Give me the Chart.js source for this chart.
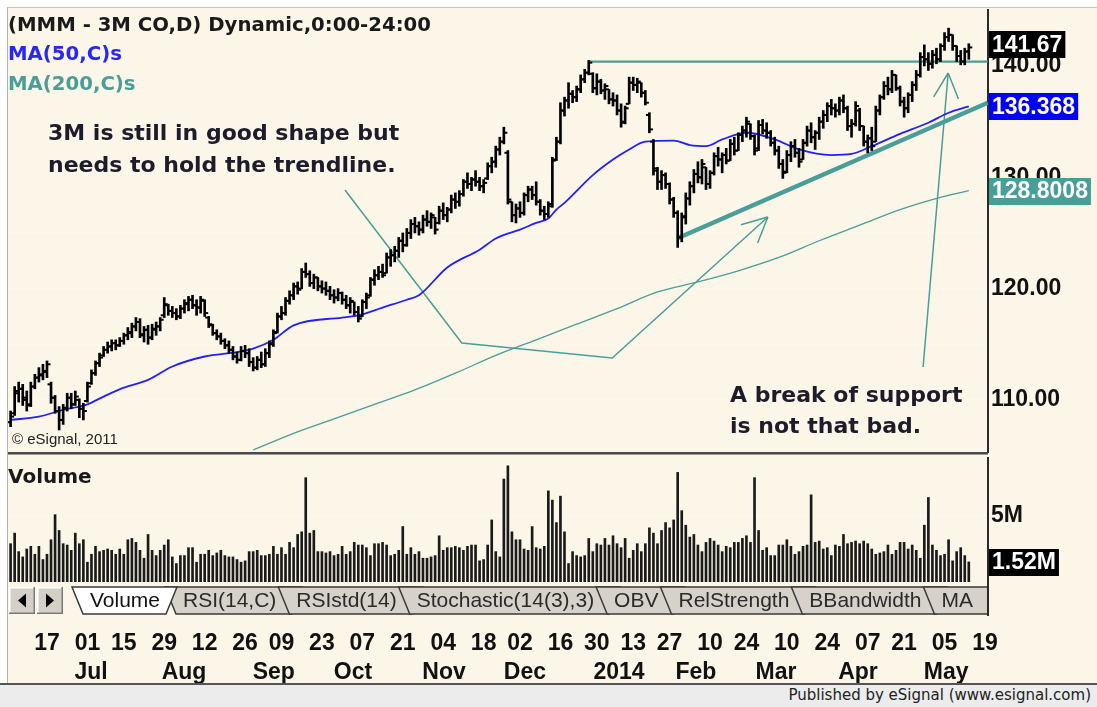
<!DOCTYPE html>
<html>
<head>
<meta charset="utf-8">
<title>MMM - 3M CO, daily</title>
<script src="https://cdn.jsdelivr.net/npm/chart.js@4.4.1/dist/chart.umd.min.js"></script>
<style>
  html, body { margin: 0; padding: 0; }
  body { width: 1097px; height: 707px; position: relative; overflow: hidden; background: #ffffff; }
  #frame { position: absolute; left: 7px; top: 7px; width: 1090px; height: 676px; background: #fcf6e9;
           border-left: 1px solid #b4b4b4; border-top: 1px solid #c4c4c4; box-sizing: border-box; }
  #price { position: absolute; left: 0; top: 0; }
  #vol { position: absolute; left: 0; top: 455px; }
  #footer { position: absolute; left: 0; top: 683px; width: 1097px; height: 24px; background: #ececec;
            border-top: 2px solid #555; box-sizing: border-box; font: 15px "DejaVu Sans", sans-serif;
            color: #222; text-align: right; padding-right: 6px; line-height: 21px; }
</style>
</head>
<body>
<div id="frame"></div>
<canvas id="price" width="1097" height="455"></canvas>
<canvas id="vol" width="1097" height="228"></canvas>
<div id="footer">Published by eSignal (www.esignal.com)</div>
<script>
// daily bars, 4 Jun 2013 .. 13 May 2014 (index = trading day)
var highs = [
  109.0,111.2,111.6,111.4,110.8,111.6,112.3,112.9,113.2,113.5,
  111.6,110.4,109.4,109.6,110.6,110.6,110.8,110.1,109.7,111.6,
  112.7,113.5,114.2,114.8,115.2,115.4,115.4,115.6,116.0,116.5,
  116.9,117.4,117.3,116.6,116.7,116.8,117.0,117.4,119.2,118.6,
  118.4,118.2,118.5,119.0,119.3,119.4,119.0,119.3,119.0,117.5,
  116.8,116.3,116.0,115.5,115.3,114.8,114.3,114.8,114.9,114.6,
  113.8,113.9,114.3,114.6,115.3,116.3,117.8,118.4,119.2,119.8,
  120.5,120.6,121.8,122.3,121.6,121.3,121.0,120.7,120.6,120.2,
  119.9,120.0,119.7,119.4,119.2,118.8,118.4,119.0,119.6,121.0,
  121.7,122.0,122.2,123.2,123.5,123.8,124.6,125.0,125.4,126.2,
  126.4,126.0,126.6,127.0,126.8,126.4,127.4,127.7,127.3,128.4,
  128.6,128.8,129.8,130.4,130.0,130.6,130.0,129.8,131.3,131.8,
  132.8,133.6,134.5,132.4,127.8,127.6,127.8,128.6,129.2,129.2,
  129.6,128.0,127.4,127.8,131.8,133.6,136.7,137.2,138.5,137.8,
  138.2,139.2,139.7,140.5,139.4,139.3,138.8,138.4,137.9,137.6,
  137.4,136.6,136.4,139.0,139.0,138.9,138.5,137.8,135.8,133.4,
  130.9,130.6,130.4,129.5,128.2,127.0,126.8,128.6,129.6,130.7,
  131.4,131.6,130.9,130.6,132.2,132.7,132.2,132.6,133.4,133.6,
  134.0,134.6,135.4,134.8,133.8,135.1,135.2,134.9,134.2,133.6,
  132.8,131.6,132.4,133.2,133.4,132.6,133.4,134.6,134.9,134.2,
  135.4,136.0,136.7,137.0,136.6,137.2,137.4,136.4,135.2,136.8,
  136.2,134.6,133.8,134.5,136.4,137.4,138.6,139.0,139.6,139.2,
  138.2,137.2,137.6,138.6,139.6,141.2,141.9,141.2,141.4,141.6,
  142.0,143.0,143.4,142.8,141.8,141.4,141.6,142.0
];
var lows = [
  107.6,108.6,109.8,109.5,109.0,109.4,111.0,111.6,111.8,112.0,
  109.7,108.8,107.3,107.8,109.0,109.2,109.5,108.4,108.2,109.8,
  111.4,112.2,113.0,113.9,114.2,114.4,114.5,114.8,115.0,115.4,
  115.6,116.2,115.6,115.2,115.0,115.4,115.8,116.2,117.4,117.6,
  117.4,117.2,117.3,117.8,118.0,118.2,117.6,117.8,117.5,116.5,
  115.8,115.4,115.0,114.6,114.2,113.6,113.3,113.5,113.8,113.0,
  112.6,112.7,112.9,113.0,113.8,114.8,116.0,117.2,117.6,118.6,
  119.0,119.5,120.0,121.0,120.2,120.0,119.8,119.6,119.4,119.0,
  118.7,118.9,118.6,118.2,117.8,117.6,117.0,117.5,118.2,119.3,
  120.3,120.8,121.0,121.4,122.0,122.4,122.8,123.3,123.8,124.5,
  125.0,124.8,125.0,125.6,125.4,124.9,125.8,126.2,126.0,126.8,
  127.2,127.4,128.3,129.0,128.8,129.2,128.8,128.6,129.8,130.4,
  130.9,132.0,133.0,127.6,126.0,125.9,126.4,126.6,127.8,128.0,
  127.5,126.6,126.2,126.4,127.3,131.5,133.0,135.5,136.2,136.7,
  136.8,137.6,138.5,139.2,137.6,137.4,137.5,137.0,136.6,136.4,
  135.6,134.5,134.8,136.6,137.8,137.6,137.2,136.5,134.0,130.2,
  128.9,128.9,129.0,127.6,126.4,123.7,124.2,125.8,127.5,128.6,
  129.5,129.4,128.9,129.0,130.2,131.0,130.4,131.2,131.5,132.0,
  132.4,133.2,133.6,133.4,132.0,132.4,133.9,133.5,132.8,132.0,
  130.8,129.9,130.4,131.4,131.8,130.9,131.6,132.8,133.1,132.5,
  133.4,134.4,135.0,135.6,135.4,135.6,135.8,134.2,133.6,134.6,
  134.2,132.8,132.2,132.4,133.2,135.6,137.0,137.4,137.6,137.8,
  136.4,135.4,135.8,136.8,137.8,139.0,140.0,139.6,139.8,140.2,
  140.4,141.4,142.2,141.4,140.4,140.1,140.1,140.6
];
var opens = [
  108.0,108.8,110.6,111.0,110.2,109.6,111.2,112.0,112.2,112.5,
  111.4,110.2,109.0,108.2,109.3,110.2,109.6,110.0,109.2,109.9,
  111.5,112.4,113.3,114.0,114.5,114.8,115.1,114.9,115.3,115.8,
  116.0,116.6,117.0,115.8,116.3,115.6,116.3,116.6,117.6,118.5,
  118.0,117.8,117.5,118.2,118.6,119.0,118.5,118.3,118.9,117.4,
  116.7,116.0,115.7,115.3,114.9,114.5,113.9,113.6,114.4,114.2,
  113.4,112.9,113.6,113.2,114.2,115.1,116.1,117.5,117.8,118.9,
  119.4,120.2,120.0,121.5,121.3,120.5,121.0,120.2,120.0,119.8,
  119.4,119.2,119.6,119.0,118.5,118.8,117.9,117.5,118.8,119.4,
  120.8,121.2,121.5,121.4,122.8,123.0,123.4,124.3,123.9,125.0,
  125.8,125.6,125.3,126.2,126.0,126.4,125.9,127.0,126.6,127.1,
  128.0,127.8,128.5,129.6,129.4,129.8,129.6,129.2,129.9,131.0,
  131.4,132.5,133.2,132.2,127.8,126.6,127.2,126.8,128.4,128.9,
  128.4,127.8,127.0,126.7,127.6,131.6,133.2,136.0,136.9,137.5,
  137.2,137.9,138.8,139.4,139.3,138.0,138.6,137.8,137.9,137.0,
  136.9,136.0,135.0,136.6,138.5,138.3,138.5,137.6,135.6,133.2,
  130.6,129.6,130.2,129.4,128.0,126.8,124.6,126.4,128.1,129.2,
  130.3,130.0,130.9,129.4,130.4,131.9,131.6,132.0,131.5,133.0,
  132.4,133.8,134.2,134.8,133.7,132.6,134.7,134.2,134.0,133.1,
  132.4,131.2,130.5,132.0,132.8,132.2,131.6,133.1,134.2,133.6,
  134.0,135.0,135.6,136.4,136.2,136.0,136.9,136.2,134.6,134.8,
  136.0,134.6,133.2,133.5,133.2,136.0,137.2,138.2,137.9,139.2,
  138.0,136.8,136.2,137.4,138.3,139.2,140.8,140.6,140.2,141.0,
  140.6,141.8,142.6,142.8,141.8,140.9,140.4,141.3
];
var closes = [
  108.5,110.8,111.0,110.0,109.5,111.2,112.0,112.3,112.6,113.2,
  110.2,109.0,108.2,109.2,110.2,109.6,110.3,109.2,109.0,111.2,
  112.4,113.3,113.8,114.5,114.8,115.1,114.9,115.3,115.8,116.1,
  116.6,117.0,115.9,116.3,115.6,116.4,116.6,117.2,118.6,118.0,
  117.8,117.5,118.2,118.7,119.0,118.5,118.3,119.0,117.8,116.8,
  116.0,115.7,115.3,114.9,114.5,113.9,113.6,114.4,114.2,113.4,
  112.9,113.6,113.2,114.2,115.0,116.0,117.5,117.8,118.9,119.4,
  120.2,119.9,121.5,121.3,120.5,121.0,120.2,120.0,119.8,119.4,
  119.2,119.6,119.0,118.5,118.9,117.9,117.3,118.8,119.2,120.8,
  121.2,121.5,121.2,122.8,123.0,123.4,124.3,123.9,125.0,125.8,
  125.6,125.3,126.2,126.0,126.6,125.3,127.0,126.6,127.1,128.0,
  127.8,128.5,129.6,129.4,129.8,129.6,129.2,129.5,131.0,131.4,
  132.5,133.2,134.0,128.0,126.6,127.2,126.8,128.4,128.9,128.4,
  127.8,127.0,126.7,127.4,131.5,133.2,136.0,136.9,137.5,137.2,
  137.9,138.8,139.4,140.3,138.0,138.6,137.8,138.2,137.0,136.9,
  136.0,134.9,136.2,138.5,138.3,138.6,137.6,136.7,134.3,130.8,
  129.6,130.2,129.4,128.0,126.8,124.6,126.5,128.1,129.2,130.3,
  130.0,131.2,129.4,130.4,131.9,131.6,132.0,131.5,133.0,132.4,
  133.8,134.2,135.0,133.7,132.4,134.7,134.2,134.0,133.1,132.4,
  131.2,130.4,132.0,132.8,132.2,131.4,133.1,134.2,133.6,134.0,
  135.0,135.6,136.4,136.2,136.0,136.9,136.2,134.6,134.8,136.4,
  134.6,133.2,133.5,132.8,136.0,137.2,138.2,137.9,139.2,138.0,
  136.8,136.2,137.4,138.3,139.2,140.8,140.6,140.2,141.0,140.6,
  141.8,142.6,142.8,141.8,140.9,140.4,141.3,141.67
];
// volume in millions of shares
var volume = [
  2.9,3.7,2.3,1.9,2.5,2.7,2.1,2.7,1.7,2.1,
  3.2,5.1,3.9,2.9,2.8,2.4,3.7,2.9,3.2,1.5,
  2.1,2.7,2.3,2.4,2.5,2.4,2.1,2.5,2.1,3.2,
  3.3,3.0,2.4,1.8,3.6,2.4,2.0,2.4,2.8,3.2,
  1.9,1.4,2.0,2.0,2.6,2.6,1.5,2.1,2.1,2.4,
  2.0,2.2,2.4,2.0,1.9,1.9,1.7,1.5,1.6,2.3,
  2.3,2.4,2.0,2.0,2.1,2.7,2.1,2.6,2.1,3.0,
  2.6,3.6,3.8,7.9,3.7,3.9,2.3,2.3,2.2,2.3,
  2.0,2.1,2.7,2.1,2.3,3.0,2.8,2.8,2.6,2.0,
  2.9,2.9,3.0,2.8,2.0,2.1,2.4,4.2,2.1,2.6,
  2.1,2.3,1.8,1.8,1.9,2.0,3.5,2.4,2.6,2.6,
  2.7,2.6,2.4,2.7,2.8,2.8,1.6,1.7,2.8,4.7,
  2.3,1.9,7.8,8.8,3.8,3.2,3.2,2.5,2.4,4.2,
  2.6,2.5,2.7,6.9,6.2,4.5,6.5,3.8,1.4,2.3,
  2.0,1.9,2.0,3.3,2.3,2.9,2.8,3.3,2.8,3.5,
  2.9,2.6,3.3,1.8,2.4,2.9,2.3,2.9,4.1,3.7,
  2.9,3.9,4.5,4.1,4.7,8.3,5.4,4.3,3.4,3.6,
  2.8,2.3,3.0,3.3,3.1,2.8,2.3,2.7,2.6,3.0,
  3.0,3.3,3.5,3.0,7.9,3.9,2.4,2.6,2.0,2.0,
  2.8,2.8,3.2,2.7,2.1,2.3,2.7,2.8,6.6,3.0,
  3.1,2.5,2.6,2.0,2.8,2.7,3.6,2.9,3.0,3.1,
  2.9,3.1,2.9,2.5,2.1,2.2,2.3,2.8,2.1,2.4,
  3.0,3.0,2.5,2.8,2.4,1.8,4.3,6.4,2.8,2.4,
  2.0,2.1,3.2,1.6,2.3,2.6,2.0,1.52
];
// moving averages (bar index, value)
var ma50At = [0,7,13,19,23,28,34,40,48,56,60,65,70,82,86,92,98,101,108,116,120,126,130,133,135,137,144,149,153,157,164,168,172,176,182,189,195,203,208,213,220,227,232,237];
var ma50   = [108.2,108.5,109.1,109.6,110.3,111.1,111.8,113.0,113.9,114.3,114.6,115.4,116.7,117.4,117.6,118.3,119.0,119.4,121.9,123.5,124.5,125.3,125.9,126.3,127.1,127.7,130.2,131.6,132.5,133.2,133.3,132.9,132.8,133.4,134.0,133.4,132.5,132.0,132.1,132.8,133.9,134.9,135.8,136.368];
var ma200At = [60,70,80,90,100,110,120,130,140,150,160,170,180,190,200,210,220,230,237];
var ma200   = [105.5,107.0,108.3,109.6,110.9,112.4,114.0,115.4,116.8,118.2,119.7,120.6,121.6,122.8,124.3,125.7,127.1,128.2,128.8008];
// drawn lines (bar index, price)
var trendLine = [[164.8,124.5],[241.7,136.7]];
var resistance = [[143,140.4],[241.7,140.4]];
var callout1 = [[82.7,128.86],[111.6,115.11],[148.8,113.76],[187.3,126.43]];
var callout2 = [[225.7,112.96],[231.9,139.37]];
// axis ticks
var priceTicks = [110,115,120,125,130,135,140];
var dayAt = [9,19,28,38,48,58,67,77,87,97,107,117,126,136,145,154,163,173,182,192,202,212,221,231,241];
var dayLabels = ['17','01','15','29','12','26','09','23','07','21','04','18','02','16','30','13','27','10','24','10','24','07','21','05','19'];
var monthAt = [19.9,42.9,65.1,84.7,107.2,127.2,150.5,169.5,189.3,209.6,231.4];
var monthLabels = ['Jul','Aug','Sep','Oct','Nov','Dec','2014','Feb','Mar','Apr','May'];
var tabNames = ['RSI(14,C)','RSIstd(14)','Stochastic(14(3),3)','OBV','RelStrength','BBandwidth','MA'];

var TEAL = '#4a9e98';
var X_MIN = -0.643, X_MAX = 241.75;
var idx = closes.map(function (_, i) { return i; });
function pts(arr) { return arr.map(function (p) { return { x: p[0], y: p[1] }; }); }

// fixed axis sizes, no label overhang padding
function fixWidth(s) { s.width = 109; s.paddingTop = 0; s.paddingBottom = 0; }
function fixHeight(h) {
  return function (s) { s.height = h; s.paddingLeft = 0; s.paddingRight = 0; };
}

function valueBox(ctx, text, y, bg) {
  ctx.font = 'bold 23px "Liberation Sans"';
  var w = ctx.measureText(text).width + 6;
  ctx.fillStyle = bg;
  ctx.fillRect(989, Math.round(y - 13), w, 27);
  ctx.fillStyle = '#fff';
  ctx.textAlign = 'left';
  ctx.textBaseline = 'middle';
  ctx.fillText(text, 992, y + 1);
}

var priceDecor = {
  id: 'priceDecor',
  afterDraw: function (chart) {
    var ctx = chart.ctx, ys = chart.scales.y;
    ctx.save();
    // arrow heads
    chart.data.datasets.forEach(function (ds, k) {
      if (!ds.arrow) return;
      var p = chart.getDatasetMeta(k).data;
      var tip = p[p.length - 1], from = p[p.length - 2];
      var a = Math.atan2(from.y - tip.y, from.x - tip.x);
      ctx.strokeStyle = ds.borderColor;
      ctx.lineWidth = ds.borderWidth;
      ctx.beginPath();
      [-0.46, 0.46].forEach(function (d) {
        ctx.moveTo(tip.x, tip.y);
        ctx.lineTo(tip.x + 28 * Math.cos(a + d), tip.y + 28 * Math.sin(a + d));
      });
      ctx.stroke();
    });
    // header and notes
    ctx.textAlign = 'left';
    ctx.textBaseline = 'alphabetic';
    ctx.font = 'bold 19.7px "DejaVu Sans"';
    ctx.fillStyle = '#1a1a1a';
    ctx.fillText('(MMM - 3M CO,D) Dynamic,0:00-24:00', 8, 31);
    ctx.fillStyle = '#2626ff';
    ctx.fillText('MA(50,C)s', 8, 60);
    ctx.fillStyle = TEAL;
    ctx.fillText('MA(200,C)s', 8, 90);
    ctx.font = 'bold 22px "DejaVu Sans"';
    ctx.fillStyle = '#1c1c2a';
    ctx.fillText('3M is still in good shape but', 48, 140);
    ctx.fillText('needs to hold the trendline.', 48, 172);
    ctx.fillText('A break of support', 730, 402);
    ctx.fillText('is not that bad.', 730, 433);
    ctx.font = '15px "Liberation Sans"';
    ctx.fillStyle = '#222';
    ctx.fillText('\u00a9 eSignal, 2011', 12, 444);
    // panel separator
    ctx.fillStyle = '#4a4a4a';
    ctx.fillRect(8, 452, 980, 2);
    ctx.fillStyle = '#9a9a9a';
    ctx.fillRect(8, 454, 980, 1);
    // last values
    var n = closes.length - 1;
    valueBox(ctx, closes[n].toFixed(2), ys.getPixelForValue(closes[n]) - 3, '#000');
    valueBox(ctx, ma50[ma50.length - 1].toFixed(3), ys.getPixelForValue(ma50[ma50.length - 1]), '#0000ff');
    valueBox(ctx, ma200[ma200.length - 1].toFixed(4), ys.getPixelForValue(ma200[ma200.length - 1]), TEAL);
    ctx.restore();
  }
};

function drawTabs(ctx) {
  var top = 132, bot = 159;
  ctx.save();
  ctx.beginPath();
  ctx.rect(8, top - 3, 980, bot - top + 6);
  ctx.clip();
  ctx.font = '21px "Liberation Sans"';
  ctx.textBaseline = 'middle';
  ctx.textAlign = 'left';
  ctx.lineWidth = 1.5;
  ctx.strokeStyle = '#3a3a3a';
  var x0 = 165;
  tabNames.forEach(function (name) {
    var w = ctx.measureText(name).width;
    var nx = x0 + 18 + w + 2;
    ctx.beginPath();
    ctx.moveTo(x0, top); ctx.lineTo(nx + 24, top); ctx.lineTo(nx + 13, bot); ctx.lineTo(x0 + 11, bot);
    ctx.closePath();
    ctx.fillStyle = '#d6d2ca';
    ctx.fill();
    ctx.stroke();
    ctx.fillStyle = '#2a2a2a';
    ctx.fillText(name, x0 + 18, (top + bot) / 2 + 1);
    x0 = nx;
  });
  // active tab
  ctx.beginPath();
  ctx.moveTo(72, top); ctx.lineTo(177, top); ctx.lineTo(166, bot); ctx.lineTo(83, bot);
  ctx.closePath();
  ctx.fillStyle = '#fff';
  ctx.fill();
  ctx.stroke();
  ctx.fillStyle = '#111';
  ctx.fillText('Volume', 90, (top + bot) / 2 + 1);
  // scroll buttons
  [[9, -1], [37, 1]].forEach(function (b) {
    var bx = b[0];
    ctx.fillStyle = '#d4d0c8';
    ctx.fillRect(bx, top, 26, bot - top);
    ctx.fillStyle = '#fff';
    ctx.fillRect(bx, top, 26, 1.5); ctx.fillRect(bx, top, 1.5, bot - top);
    ctx.fillStyle = '#7a7a7a';
    ctx.fillRect(bx, bot - 1.5, 26, 1.5); ctx.fillRect(bx + 24.5, top, 1.5, bot - top);
    var cx = bx + 13, cy = (top + bot) / 2;
    ctx.fillStyle = '#000';
    ctx.beginPath();
    ctx.moveTo(cx - 4 * b[1], cy - 7); ctx.lineTo(cx + 4 * b[1], cy); ctx.lineTo(cx - 4 * b[1], cy + 7);
    ctx.closePath();
    ctx.fill();
  });
  ctx.restore();
  ctx.fillStyle = '#2a2a2a';
  ctx.fillRect(987, 127, 2, bot - 127 + 2);
}

var volDecor = {
  id: 'volDecor',
  afterDraw: function (chart) {
    var ctx = chart.ctx;
    ctx.save();
    ctx.textAlign = 'left';
    ctx.textBaseline = 'alphabetic';
    ctx.font = 'bold 20px "DejaVu Sans"';
    ctx.fillStyle = '#1a1a1a';
    ctx.fillText('Volume', 8, 28);
    var n = volume.length - 1;
    valueBox(ctx, volume[n].toFixed(2) + 'M', chart.scales.y.getPixelForValue(volume[n]), '#000');
    drawTabs(ctx);
    ctx.restore();
  }
};

var labelFont = { family: 'Liberation Sans', weight: 'bold', size: 23, lineHeight: 1.2 };

new Chart(document.getElementById('price'), {
  type: 'bar',
  data: {
    datasets: [
      { type: 'bar', data: idx.map(function (i) { return { x: i, y: [lows[i], highs[i]] }; }),
        backgroundColor: '#000', barThickness: 2, borderWidth: 0, order: 0 },
      { type: 'line', data: idx.map(function (i) { return { x: i, y: opens[i] }; }), showLine: false,
        pointStyle: 'dash', pointRotation: 180, pointRadius: 3.5, pointBorderWidth: 2, pointBorderColor: '#000', order: 0 },
      { type: 'line', data: idx.map(function (i) { return { x: i, y: closes[i] }; }), showLine: false,
        pointStyle: 'dash', pointRotation: 0, pointRadius: 3.5, pointBorderWidth: 2, pointBorderColor: '#000', order: 0 },
      { type: 'line', data: ma50At.map(function (x, k) { return { x: x, y: ma50[k] }; }),
        borderColor: '#1f1fff', borderWidth: 1.8, pointRadius: 0, cubicInterpolationMode: 'monotone', order: 1 },
      { type: 'line', data: ma200At.map(function (x, k) { return { x: x, y: ma200[k] }; }),
        borderColor: TEAL, borderWidth: 1.3, pointRadius: 0, cubicInterpolationMode: 'monotone', order: 1 },
      { type: 'line', data: pts(trendLine), borderColor: TEAL, borderWidth: 4.5, pointRadius: 0, order: 2 },
      { type: 'line', data: pts(resistance), borderColor: TEAL, borderWidth: 2.2, pointRadius: 0, order: 2 },
      { type: 'line', data: pts(callout1), borderColor: TEAL, borderWidth: 1.5, pointRadius: 0, order: 2, arrow: true },
      { type: 'line', data: pts(callout2), borderColor: TEAL, borderWidth: 1.5, pointRadius: 0, order: 2, arrow: true }
    ]
  },
  options: {
    responsive: false, animation: false, events: [],
    layout: { autoPadding: false, padding: { left: 8, top: 10, right: 0, bottom: 3 } },
    plugins: { legend: { display: false }, tooltip: { enabled: false } },
    scales: {
      x: { type: 'linear', display: false, min: X_MIN, max: X_MAX, offset: false, grid: { offset: false } },
      y: {
        position: 'right', min: 105.32, max: 145.03,
        afterBuildTicks: function (s) { s.ticks = priceTicks.map(function (v) { return { value: v }; }); },
        afterFit: fixWidth,
        grid: { color: 'rgba(255,255,255,0.95)', drawTicks: false },
        border: { display: true, color: '#2a2a2a', width: 2, dash: [1, 3] },
        ticks: { padding: 3, color: '#111', font: labelFont,
                 callback: function (v) { return v % 10 === 0 ? v.toFixed(2) : ''; } }
      }
    }
  },
  plugins: [priceDecor]
});

new Chart(document.getElementById('vol'), {
  type: 'bar',
  data: {
    datasets: [
      { data: idx.map(function (i) { return { x: i, y: volume[i] }; }),
        backgroundColor: '#1a1a1a', barThickness: 2, borderWidth: 0 }
    ]
  },
  options: {
    responsive: false, animation: false, events: [],
    layout: { autoPadding: false, padding: { left: 8, top: 3, right: 0, bottom: 0 } },
    plugins: { legend: { display: false }, tooltip: { enabled: false } },
    scales: {
      x: {
        type: 'linear', position: 'bottom', weight: 0, min: X_MIN, max: X_MAX, offset: false,
        afterBuildTicks: function (s) { s.ticks = dayAt.map(function (v) { return { value: v }; }); },
        afterFit: fixHeight(69),
        grid: { display: false, offset: false }, border: { display: false },
        ticks: { autoSkip: false, maxRotation: 0, padding: 40.2, color: '#111', font: labelFont,
                 callback: function (v, i) { return dayLabels[i]; } }
      },
      xm: {
        type: 'linear', position: 'bottom', weight: 1, min: X_MIN, max: X_MAX, offset: false,
        afterBuildTicks: function (s) { s.ticks = monthAt.map(function (v) { return { value: v }; }); },
        afterFit: fixHeight(32),
        grid: { display: false }, border: { display: false },
        ticks: { autoSkip: false, maxRotation: 0, padding: 0.2, color: '#111', font: labelFont,
                 callback: function (v, i) { return monthLabels[i]; } }
      },
      y: {
        type: 'linear', position: 'right', min: 0, max: 9.39,
        afterBuildTicks: function (s) { s.ticks = [{ value: 5 }]; },
        afterFit: fixWidth,
        grid: { color: 'rgba(255,255,255,0.95)', drawTicks: false },
        border: { display: true, color: '#2a2a2a', width: 2, dash: [1, 3] },
        ticks: { padding: 3, color: '#111', font: labelFont, callback: function (v) { return v + 'M'; } }
      }
    }
  },
  plugins: [volDecor]
});
</script>
</body>
</html>
